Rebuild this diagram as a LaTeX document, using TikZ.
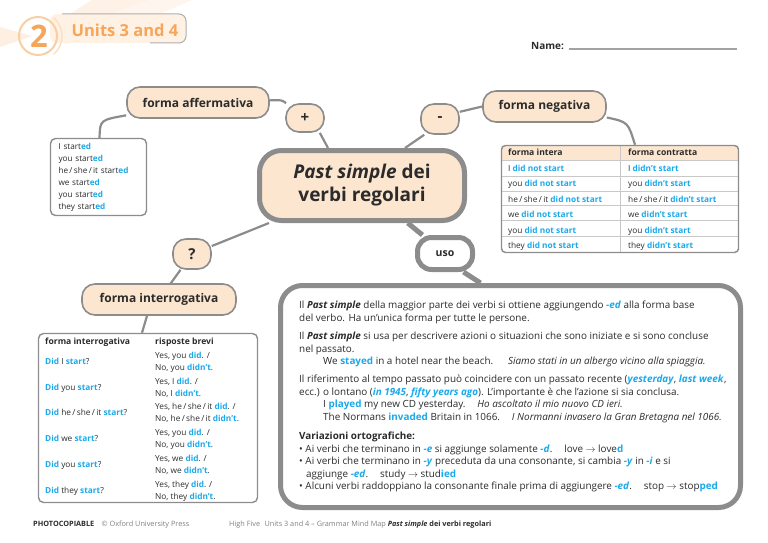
\documentclass[tikz,border=0pt]{standalone}
\usepackage{fontspec}
\setmainfont{Open Sans}
\usepackage{tikz}
\usetikzlibrary{positioning,backgrounds}

\definecolor{peach}{HTML}{FCE6CF}
\definecolor{linegrey}{HTML}{8C8C8C}
\definecolor{rulegrey}{HTML}{C8C8C8}
\definecolor{hlblue}{HTML}{1BA9EA}
\definecolor{inkdark}{HTML}{2B2B2B}
\definecolor{badge}{HTML}{F6A65A}
\definecolor{tabfill}{HTML}{FFF1E3}

\newcommand\hl[1]{\textcolor{hlblue}{\textbf{#1}}}
\newcommand\hli[1]{\textcolor{hlblue}{\textbf{\itshape #1}}}
\newcommand\psimple{\textbf{\itshape Past simple}}
\newcommand\hsi{he\,/\,she\,/\,it}

\begin{document}
\begin{tikzpicture}[x=1pt,y=-1pt,
    bubble/.style={draw=linegrey,line width=1.6pt,fill=peach,rounded corners=13pt,inner sep=0pt,
      font=\bfseries\fontsize{12}{14}\selectfont,text=inkdark},
    mainbubble/.style={bubble,line width=5pt,rounded corners=22pt,align=center,
      font=\bfseries\fontsize{19}{23}\selectfont},
    thickbubble/.style={bubble,line width=5pt,fill=white,rounded corners=14pt},
    card/.style={draw=linegrey,line width=1.4pt,fill=none,rounded corners=5pt,inner sep=0pt},
    link/.style={draw=linegrey,line width=2.2pt},
    thicklink/.style={draw=linegrey,line width=5pt},
    cell/.style={anchor=base west,inner sep=0pt,font=\fontsize{8.3}{10}\selectfont,text=inkdark},
    head/.style={cell,font=\bfseries\fontsize{8.6}{10}\selectfont},
    body/.style={anchor=north west,inner sep=0pt,align=left,font=\fontsize{9.9}{12.5}\selectfont,text=inkdark},
    foot/.style={anchor=base west,inner sep=0pt,font=\fontsize{7.3}{8}\selectfont,text=gray}]
\useasboundingbox (0,0) rectangle (768,543);

% header
\fill[badge!15] (60,20) -- (92,0) -- (150,0) -- (66,30) -- cycle;
\fill[badge!10] (110,14) -- (150,0) -- (192,0) -- (160,14) -- cycle;
\fill[badge!18] (0,27) -- (32,36) -- (0,47) -- cycle;
\fill[tabfill,rounded corners=7pt] (50,14) rectangle (186,43);
\draw[linegrey!70,line width=1pt,rounded corners=7pt] (62,14) -- (186,14) -- (186,43) -- (150,43);
\draw[badge!55,line width=2pt] (38,36) circle (19);
\draw[badge!35,line width=1.5pt] (38,36) ++(50:24) arc[start angle=50,end angle=-50,radius=24];
\node[font=\bfseries\fontsize{31}{31}\selectfont,text=badge] (unitnum) at (39,36) {2};
\node[font=\bfseries\fontsize{16.5}{18}\selectfont,text=badge] (unitlbl) at (125,30) {Units 3 and 4};
\node[anchor=base west,inner sep=0pt,font=\bfseries\fontsize{10}{12}\selectfont,text=inkdark] (namelbl) at (531,49) {Name:};
\coordinate (nameend) at (737,48);
\draw[linegrey!80,line width=1.2pt] ([xshift=5pt]namelbl.base east) -- (nameend |- namelbl.base);

% bubbles
\node[bubble,minimum width=142pt,minimum height=31pt] (aff) at (198,102.5) {forma affermativa};
\node[bubble,minimum width=38pt,minimum height=28pt,font=\bfseries\fontsize{15}{15}\selectfont] (plus) at (305,118) {+};
\node[bubble,minimum width=38pt,minimum height=30pt,font=\bfseries\fontsize{15}{15}\selectfont] (minus) at (440,119) {-};
\node[bubble,minimum width=123pt,minimum height=31pt] (neg) at (544.5,106.5) {forma negativa};
\node[mainbubble,minimum width=205pt,minimum height=70pt] (main) at (362,185.5) {\textit{Past simple} dei\\verbi regolari};
\node[thickbubble,minimum width=55pt,minimum height=32pt,font=\bfseries\fontsize{10.5}{12}\selectfont] (uso) at (445,253.5) {uso};
\node[bubble,minimum width=38pt,minimum height=30pt,font=\bfseries\fontsize{15}{15}\selectfont] (quest) at (192,254) {?};
\node[bubble,minimum width=154pt,minimum height=31pt] (inter) at (159,299.5) {forma interrogativa};

% affermativa
\node[card,fill=white,minimum width=96pt,minimum height=77pt,text width=80pt,align=left,
  font=\fontsize{8.2}{12}\selectfont,text=inkdark] (started) at (98.5,177)
  {I start\hl{ed}\\you start\hl{ed}\\\hsi{} start\hl{ed}\\we start\hl{ed}\\you start\hl{ed}\\they start\hl{ed}};

% negativa
\node[card,rounded corners=4pt,minimum width=237pt,minimum height=107pt] (negtab) at (620,199) {};
\begin{scope}[on background layer]
  \clip[rounded corners=4pt] (negtab.north west) rectangle (negtab.south east);
  \fill[peach] (negtab.north west) rectangle (739,160);
  \foreach \y in {160,176,191,205,220,236}
    \draw[rulegrey,line width=0.8pt] (501,\y) -- (739,\y);
  \draw[rulegrey,line width=0.8pt] (620,145) -- (620,253);
\end{scope}
\node[head] (neghead1) at (508,155.5) {forma intera};
\node[head] (neghead2) at (628,155.5) {forma contratta};
\foreach \p [count=\i] in {I,you,\hsi,we,you,they}{
  \node[cell] (negfull\i) at (508,{160+(\i-0.5)*15.5+3.3}) {\p\ \hl{did not start}};
  \node[cell] (negshort\i) at (628,{160+(\i-0.5)*15.5+3.3}) {\p\ \hl{didn’t start}};
}

% interrogativa
\node[card,rounded corners=5pt,minimum width=219pt,minimum height=169pt] (intertab) at (148,418) {};
\begin{scope}[on background layer]
  \clip[rounded corners=5pt] (intertab.north west) rectangle (intertab.south east);
  \fill[peach] (intertab.north west) rectangle (258,348);
  \foreach \y in {348,374,400,426,452,478}
    \draw[rulegrey,line width=0.8pt] (38,\y) -- (258,\y);
  \draw[rulegrey,line width=0.8pt] (147,333) -- (147,503);
\end{scope}
\node[head] (interhead1) at (45,344) {forma interrogativa};
\node[head] (interhead2) at (155,344) {risposte brevi};
\foreach \q/\a [count=\i] in {I/you,you/I,\hsi/\hsi,we/you,you/we,they/they}{
  \node[cell] (ask\i) at (45,{348+(\i-0.5)*25.8+3.3}) {\hl{Did} \q\ \hl{start}?};
  \node[cell] (yes\i) at (155,{348+(\i-0.5)*25.8-2.7}) {Yes, \a\ \hl{did}. /};
  \node[cell] (no\i) at (155,{348+(\i-0.5)*25.8+9.3}) {No, \a\ \hl{didn’t}.};
}

% uso
\node[thickbubble,rounded corners=22pt,minimum width=460pt,minimum height=222pt] (usobox) at (510.5,396.5) {};
\node[body] (par1) at (299,301) {Il \psimple{} della maggior parte dei verbi si ottiene aggiungendo \hli{-ed} alla forma base\\
  del verbo. Ha un’unica forma per tutte le persone.};
\node[body] (par2) at (299,332) {Il \psimple{} si usa per descrivere azioni o situazioni che sono iniziate e si sono concluse\\
  nel passato.\\
  \hspace*{24pt}We \hl{stayed} in a hotel near the beach.\hspace{1.5em}\textit{Siamo stati in un albergo vicino alla spiaggia.}};
\node[body] (par3) at (299,375) {Il riferimento al tempo passato può coincidere con un passato recente (\hli{yesterday}, \hli{last week},\\
  ecc.) o lontano (\hli{in 1945}, \hli{fifty years ago}). L’importante è che l’azione si sia conclusa.\\
  \hspace*{24pt}I \hl{played} my new CD yesterday.\hspace{1.2em}\textit{Ho ascoltato il mio nuovo CD ieri.}\\
  \hspace*{24pt}The Normans \hl{invaded} Britain in 1066.\hspace{1.2em}\textit{I Normanni invasero la Gran Bretagna nel 1066.}};
\node[body] (par4) at (299,432) {\textbf{Variazioni ortografiche:}\\
  \textbullet\ Ai verbi che terminano in \hli{-e} si aggiunge solamente \hli{-d}.\hspace{1.2em}love $\to$ love\hl{d}\\
  \textbullet\ Ai verbi che terminano in \hli{-y} preceduta da una consonante, si cambia \hli{-y} in \hli{-i} e si\\
  \hspace*{7pt}aggiunge \hli{-ed}.\hspace{1.2em}study $\to$ stud\hl{ied}\\
  \textbullet\ Alcuni verbi raddoppiano la consonante finale prima di aggiungere \hli{-ed}.\hspace{1.2em}stop $\to$ stop\hl{ped}};

% connectors
\path[link] (aff) .. controls (100,120) .. (started)
            (aff) .. controls (282,100) .. (plus)
            (plus.-45) -- ([xshift=-34pt]main.north)
            (minus.-135) -- ([xshift=43pt]main.north)
            (minus.20) -- (neg.west)
            (neg.-10) .. controls (628,122) .. ([xshift=15pt]negtab.north)
            (main) -- (quest)
            (quest) -- (inter)
            ([xshift=-12pt]inter.south) -- ([xshift=-6pt]intertab.north);
\path[thicklink] (main) -- (uso)
                 (uso.-45) -- ([xshift=-30pt]usobox.north);

% footer
\node[foot] (photo) at (33,526) {\textcolor{inkdark}{\textbf{PHOTOCOPIABLE}}\hspace{1em}© Oxford University Press};
\node[foot] (credit) at (229,526) {High Five\hspace{0.6em}Units 3 and 4 – Grammar Mind Map \textcolor{inkdark}{\textbf{\textit{Past simple} dei verbi regolari}}};
\end{tikzpicture}
\end{document}
